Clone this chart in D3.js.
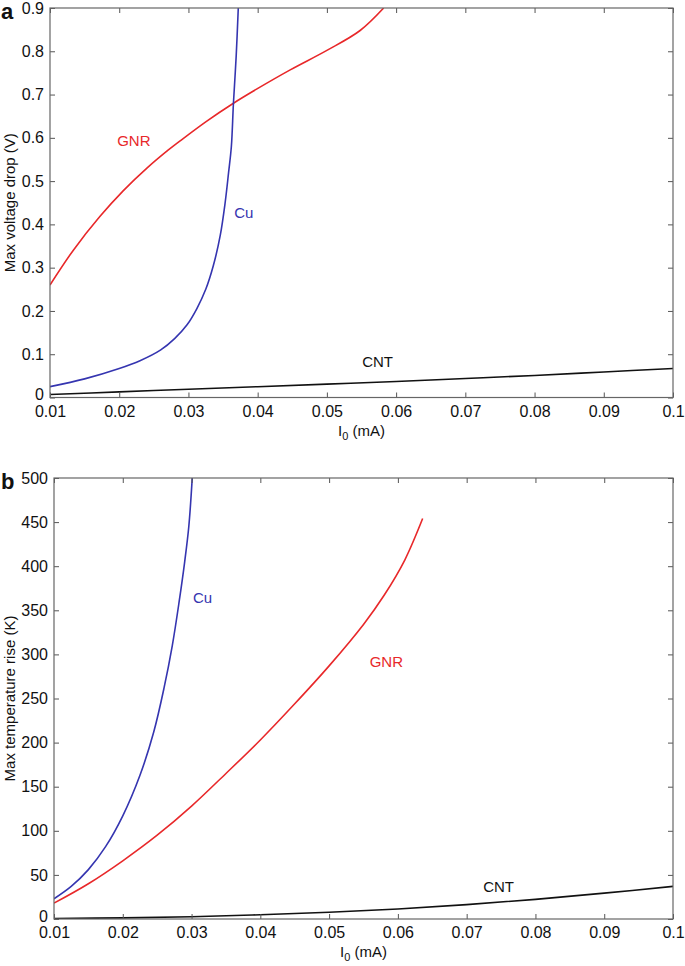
<!DOCTYPE html>
<html>
<head>
<meta charset="utf-8">
<script src="https://cdn.jsdelivr.net/npm/d3@7"></script>
<style>
  body { margin: 0; background: #fff; }
  svg { display: block; font-family: Arial, "Liberation Sans", sans-serif; }
  .frame { fill: none; stroke: #666; stroke-width: 1.2; }
</style>
</head>
<body>
<svg width="685" height="966"></svg>
<script>
// shared x ticks (mA)
const xTicks = [0.01, 0.02, 0.03, 0.04, 0.05, 0.06, 0.07, 0.08, 0.09, 0.1];
const xTickLabels = ["0.01", "0.02", "0.03", "0.04", "0.05", "0.06", "0.07", "0.08", "0.09", "0.1"];

// panel a: max voltage drop (V)
const aYTicks = [0, 0.1, 0.2, 0.3, 0.4, 0.5, 0.6, 0.7, 0.8, 0.9];
const aYTickLabels = ["0", "0.1", "0.2", "0.3", "0.4", "0.5", "0.6", "0.7", "0.8", "0.9"];
const aGnrX = [0.01, 0.0134, 0.0172, 0.0206, 0.024, 0.0271, 0.0288, 0.0325, 0.0365, 0.0399, 0.0447, 0.05, 0.0548, 0.0582];
const aGnrY = [0.26, 0.341, 0.418, 0.478, 0.53, 0.572, 0.593, 0.637, 0.680, 0.713, 0.757, 0.802, 0.848, 0.9];
const aCuX = [0.01, 0.015, 0.02, 0.023, 0.026, 0.028, 0.0298, 0.0312, 0.0325, 0.0336, 0.0346, 0.0353, 0.0358, 0.0362, 0.0365, 0.0369, 0.0372];
const aCuY = [0.025, 0.043, 0.067, 0.085, 0.11, 0.136, 0.168, 0.205, 0.25, 0.305, 0.375, 0.45, 0.52, 0.58, 0.68, 0.79, 0.9];
const aCntX = [0.01, 0.02, 0.03, 0.04, 0.05, 0.06, 0.07, 0.08, 0.09, 0.1];
const aCntY = [0.007, 0.013, 0.019, 0.025, 0.031, 0.037, 0.044, 0.051, 0.059, 0.067];

// panel b: max temperature rise (K)
const bYTicks = [0, 50, 100, 150, 200, 250, 300, 350, 400, 450, 500];
const bYTickLabels = ["0", "50", "100", "150", "200", "250", "300", "350", "400", "450", "500"];
const bCuX = [0.01, 0.0125, 0.015, 0.0175, 0.02, 0.0225, 0.0245, 0.026, 0.0272, 0.0282, 0.029, 0.0296, 0.0301];
const bCuY = [23, 37, 56, 82, 117, 163, 212, 262, 310, 360, 405, 445, 500];
const bGnrX = [0.01, 0.015, 0.02, 0.025, 0.03, 0.035, 0.04, 0.045, 0.05, 0.055, 0.058, 0.061, 0.0636];
const bGnrY = [18, 40, 66, 95, 128, 165, 203, 244, 287, 334, 367, 407, 454];
const bCntX = [0.01, 0.02, 0.03, 0.04, 0.05, 0.06, 0.07, 0.08, 0.09, 0.1];
const bCntY = [0.5, 1.3, 2.6, 4.8, 7.6, 11.3, 16.3, 22.3, 29.3, 37];

const RED = "#e8282a", BLUE = "#3535b0", BLACK = "#111";

const svg = d3.select("svg");

function zip(xs, ys) { return xs.map((x, i) => [x, ys[i]]); }

function drawPanel(opt) {
  const x = d3.scaleLinear().domain([0.01, 0.1]).range([opt.left, opt.right]);
  const y = d3.scaleLinear().domain(opt.yDomain).range([opt.bottom, opt.top]);
  const g = svg.append("g");

  // clip for curves
  const cid = "clip" + opt.letter;
  svg.append("clipPath").attr("id", cid).append("rect")
    .attr("x", opt.left).attr("y", opt.top)
    .attr("width", opt.right - opt.left).attr("height", opt.bottom - opt.top);

  const line = d3.line().x(d => x(d[0])).y(d => y(d[1])).curve(d3.curveCatmullRom.alpha(0.5));
  const curves = g.append("g").attr("clip-path", `url(#${cid})`);
  opt.series.forEach(s => {
    curves.append("path").datum(zip(s.xs, s.ys))
      .attr("fill", "none").attr("stroke", s.color).attr("stroke-width", 1.6)
      .attr("d", line);
  });

  // axes with inward ticks, mirrored on top/right
  const tl = 5;
  g.append("g").attr("transform", `translate(0,${opt.bottom})`)
    .call(d3.axisBottom(x).tickValues(xTicks).tickFormat((d, i) => xTickLabels[i]).tickSizeInner(-tl).tickSizeOuter(0).tickPadding(8))
    .call(a => a.select(".domain").remove());
  g.append("g").attr("transform", `translate(0,${opt.top})`)
    .call(d3.axisTop(x).tickValues(xTicks).tickFormat("").tickSizeInner(-tl).tickSizeOuter(0))
    .call(a => a.select(".domain").remove());
  g.append("g").attr("transform", `translate(${opt.left},0)`)
    .call(d3.axisLeft(y).tickValues(opt.yTicks).tickFormat((d, i) => opt.yTickLabels[i]).tickSizeInner(-tl).tickSizeOuter(0).tickPadding(6))
    .call(a => a.select(".domain").remove())
    .call(a => a.selectAll(".tick text").filter(d => d === 0).attr("dy", "0.15em"));
  g.append("g").attr("transform", `translate(${opt.right},0)`)
    .call(d3.axisRight(y).tickValues(opt.yTicks).tickFormat("").tickSizeInner(-tl).tickSizeOuter(0))
    .call(a => a.select(".domain").remove());
  g.selectAll(".tick line").attr("stroke", "#555");
  g.selectAll(".tick text").attr("font-size", 16).attr("fill", "#111")
    .attr("font-family", "Arial, 'Liberation Sans', sans-serif");

  g.append("rect").attr("class", "frame")
    .attr("x", opt.left).attr("y", opt.top)
    .attr("width", opt.right - opt.left).attr("height", opt.bottom - opt.top);

  // curve labels
  opt.labels.forEach(l => {
    g.append("text").attr("x", x(l.x)).attr("y", y(l.y))
      .attr("fill", l.color).attr("font-size", 15).text(l.text);
  });

  // axis titles
  const xt = g.append("text").attr("x", (opt.left + opt.right) / 2).attr("y", opt.bottom + 38)
    .attr("text-anchor", "middle").attr("font-size", 15).attr("fill", "#111");
  xt.append("tspan").text("I");
  xt.append("tspan").attr("font-size", 11).attr("dy", 4).text("0");
  xt.append("tspan").attr("dy", -4).text(" (mA)");

  g.append("text").attr("transform", `translate(15,${(opt.top + opt.bottom) / 2}) rotate(-90)`)
    .attr("text-anchor", "middle").attr("font-size", 15).attr("fill", "#111").text(opt.yTitle);

  g.append("text").attr("x", 1).attr("y", opt.top + 11)
    .attr("font-size", 22).attr("font-weight", "bold").attr("fill", "#111").text(opt.letter);
}

drawPanel({
  letter: "a", left: 50, right: 673, top: 8, bottom: 397.5,
  yDomain: [0, 0.9], yTicks: aYTicks, yTickLabels: aYTickLabels,
  yTitle: "Max voltage drop (V)",
  series: [
    { xs: aCntX, ys: aCntY, color: BLACK },
    { xs: aGnrX, ys: aGnrY, color: RED },
    { xs: aCuX, ys: aCuY, color: BLUE }
  ],
  labels: [
    { x: 0.0197, y: 0.582, text: "GNR", color: RED },
    { x: 0.0366, y: 0.415, text: "Cu", color: BLUE },
    { x: 0.0551, y: 0.07, text: "CNT", color: BLACK }
  ]
});

drawPanel({
  letter: "b", left: 54, right: 673, top: 478, bottom: 919,
  yDomain: [0, 500], yTicks: bYTicks, yTickLabels: bYTickLabels,
  yTitle: "Max temperature rise (K)",
  series: [
    { xs: bCntX, ys: bCntY, color: BLACK },
    { xs: bGnrX, ys: bGnrY, color: RED },
    { xs: bCuX, ys: bCuY, color: BLUE }
  ],
  labels: [
    { x: 0.0302, y: 358, text: "Cu", color: BLUE },
    { x: 0.0559, y: 286, text: "GNR", color: RED },
    { x: 0.0724, y: 30.6, text: "CNT", color: BLACK }
  ]
});
</script>
</body>
</html>
